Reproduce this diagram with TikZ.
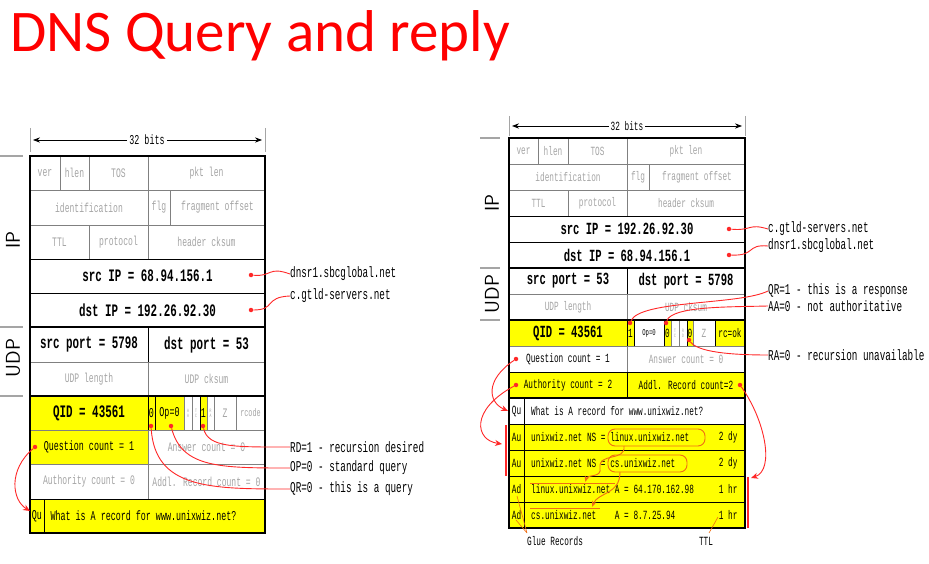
\documentclass[tikz,border=0pt]{standalone}
\usepackage{fontspec}
\setmainfont{Carlito}
\newfontfamily\mono[FakeStretch=0.62]{Liberation Mono}
\usetikzlibrary{arrows.meta}
\definecolor{gtext}{RGB}{165,165,165}
\definecolor{ylw}{RGB}{255,255,0}
\definecolor{rd}{RGB}{255,40,40}
\definecolor{org}{RGB}{240,110,20}
\tikzset{
 bt/.style={font=\mono\bfseries\fontsize{17.5}{17.5}\selectfont},
 bs/.style={font=\mono\bfseries\fontsize{17}{17}\selectfont},
 gt/.style={font=\mono\fontsize{13}{13}\selectfont,text=gtext},
 gs/.style={font=\mono\fontsize{12.5}{12.5}\selectfont,text=gtext},
 stl/.style={font=\mono\fontsize{13.5}{13.5}\selectfont},
 st/.style={font=\mono\fontsize{12.5}{12.5}\selectfont},
 tt/.style={font=\mono\fontsize{5}{5}\selectfont,text=gtext,align=center,inner sep=0pt},
 ann/.style={font=\mono\fontsize{15}{15}\selectfont,anchor=west,inner sep=0pt},
 sann/.style={font=\mono\fontsize{12.5}{12.5}\selectfont,inner sep=0pt},
 lay/.style={font=\sffamily\fontsize{20}{20}\selectfont,rotate=90},
 rl/.style={rd,line width=0.9pt},
 dot/.style={circle,fill=rd,inner sep=0pt,minimum size=4.5pt},
 arr/.style={rl,-{Stealth[length=7pt,width=6pt]}},
 ol/.style={org,line width=0.9pt},
}
% cell: x1 y1 x2 y2 fill draw style text
\newcommand\cel[8]{\filldraw[fill=#5,draw=#6,line width=0.9pt] (#1,#2) rectangle (#3,#4);
 \node[#7] at ({(#1+#3)/2},{(#2+#4)/2}) {#8};}
\begin{document}
\begin{tikzpicture}[x=1pt,y=-1pt]
\useasboundingbox (0,0) rectangle (929,564);
\node[anchor=west,text=red,font=\fontsize{59}{59}\selectfont,inner sep=0pt] (title) at (10,36) {DNS Query and reply};

% ================= LEFT =================
\draw[gtext,line width=1pt] (30,128)--(30,152) (265,128)--(265,152);
\node[stl,fill=white,inner sep=2pt] (lbits) at (147,140) {32 bits};
\draw[-{Stealth[length=7pt]},line width=0.8pt] (lbits.west)--(33,140);
\draw[-{Stealth[length=7pt]},line width=0.8pt] (lbits.east)--(262,140);
\draw[gtext,line width=1.5pt] (0,156)--(23,156) (0,327)--(23,327) (0,396)--(23,396);
\node[lay] (lip) at (13,240) {IP};
\node[lay] (ludp) at (13,358) {UDP};
\cel{30}{156}{60}{190}{white}{gray}{gt}{ver}
\cel{60}{156}{89}{190}{white}{gray}{gt}{hlen}
\cel{89}{156}{148}{190}{white}{gray}{gt}{TOS}
\cel{148}{156}{265}{190}{white}{gray}{gt}{pkt len}
\cel{30}{190}{148}{225}{white}{gray}{gt}{identification}
\cel{148}{190}{170}{225}{white}{gray}{gt}{flg}
\cel{170}{190}{265}{225}{white}{gray}{gt}{fragment offset}
\cel{30}{225}{89}{259}{white}{gray}{gt}{TTL}
\cel{89}{225}{148}{259}{white}{gray}{gt}{protocol}
\cel{148}{225}{265}{259}{white}{gray}{gt}{header cksum}
\cel{30}{259}{265}{293}{white}{black}{bt}{src IP = 68.94.156.1}
\cel{30}{293}{265}{327}{white}{black}{bt}{dst IP = 192.26.92.30}
\cel{30}{327}{148}{362}{white}{black}{bt}{src port = 5798}
\cel{148}{327}{265}{362}{white}{black}{bt}{dst port = 53}
\cel{30}{362}{148}{396}{white}{gray}{gt}{UDP length}
\cel{148}{362}{265}{396}{white}{gray}{gt}{UDP cksum}
\cel{30}{396}{148}{430}{ylw}{black}{bt}{QID = 43561}
\cel{148}{396}{155}{430}{ylw}{black}{stl,inner sep=0pt}{0}
\cel{155}{396}{184}{430}{ylw}{black}{stl,inner sep=0pt}{Op=0}
\cel{184}{396}{192}{430}{white}{gray}{tt}{A\\A}
\cel{192}{396}{200}{430}{white}{gray}{tt}{T\\C}
\cel{200}{396}{207}{430}{ylw}{black}{stl,inner sep=0pt}{1}
\cel{207}{396}{214}{430}{white}{gray}{tt}{R\\A}
\cel{214}{396}{236}{430}{white}{gray}{gt}{Z}
\cel{236}{396}{265}{430}{white}{gray}{gs,font=\mono\fontsize{11}{11}\selectfont}{rcode}
\cel{30}{430}{148}{464}{ylw}{gray}{stl}{Question count = 1}
\cel{148}{430}{265}{464}{white}{gray}{gt}{Answer count = 0}
\cel{30}{464}{148}{499}{white}{gray}{gt}{Authority count = 0}
\cel{148}{464}{265}{499}{white}{gray}{gt}{Addl. Record count = 0}
\cel{30}{499}{44}{533}{ylw}{black}{stl,inner sep=0pt}{Qu}
\filldraw[fill=ylw,draw=black,line width=0.9pt] (44,499) rectangle (265,533);
\node[stl,anchor=west] (lq) at (47,516) {What is A record for www.unixwiz.net?};
\draw[line width=2pt] (30,156) rectangle (265,533);
\draw[line width=1.6pt] (30,327)--(265,327) (30,396)--(265,396);
% left annotations
\node[dot] (ld1) at (251,275) {};
\node[dot] (ld2) at (251,310) {};
\node[ann] (lsrc) at (290,274) {dnsr1.sbcglobal.net};
\node[ann] (ldst) at (290,296) {c.gtld-servers.net};
\draw[rl] (ld1) .. controls (272,277) and (268,266) .. (lsrc.west);
\draw[rl] (ld2) .. controls (276,310) and (264,297) .. (ldst.west);
\node[dot] (lqr) at (151,426) {};
\node[dot] (lop) at (171,426) {};
\node[dot] (lrd) at (203,426) {};
\node[ann] (lrdt) at (290,447) {RD=1 - recursion desired};
\node[ann] (lopt) at (290,468) {OP=0 - standard query};
\node[ann] (lqrt) at (290,489) {QR=0 - this is a query};
\draw[rl] (lrd) .. controls (208,448) and (235,447) .. (lrdt.west);
\draw[rl] (lop) .. controls (182,468) and (220,468) .. (lopt.west);
\draw[rl] (lqr) .. controls (155,489) and (210,489) .. (lqrt.west);
\node[dot] (lqc) at (35,447) {};
\coordinate (lqu) at (30,511);
\draw[arr] (lqc) .. controls (8,470) and (12,500) .. (lqu);

% ================= RIGHT =================
\draw[gtext,line width=1pt] (509,116)--(509,136) (745,116)--(745,136);
\node[st,fill=white,inner sep=2pt] (rbits) at (627,126) {32 bits};
\draw[-{Stealth[length=7pt]},line width=0.8pt] (rbits.west)--(512,126);
\draw[-{Stealth[length=7pt]},line width=0.8pt] (rbits.east)--(742,126);
\draw[gtext,line width=1.5pt] (480,138)--(500,138) (480,268)--(500,268) (480,320)--(500,320);
\node[lay] (rip) at (492,203) {IP};
\node[lay] (rudp) at (492,294) {UDP};
\cel{509}{138}{538}{164}{white}{gray}{gs}{ver}
\cel{538}{138}{568}{164}{white}{gray}{gs}{hlen}
\cel{568}{138}{627}{164}{white}{gray}{gs}{TOS}
\cel{627}{138}{745}{164}{white}{gray}{gs}{pkt len}
\cel{509}{164}{627}{190}{white}{gray}{gs}{identification}
\cel{627}{164}{649}{190}{white}{gray}{gs}{flg}
\cel{649}{164}{745}{190}{white}{gray}{gs}{fragment offset}
\cel{509}{190}{568}{216}{white}{gray}{gs}{TTL}
\cel{568}{190}{627}{216}{white}{gray}{gs}{protocol}
\cel{627}{190}{745}{216}{white}{gray}{gs}{header cksum}
\cel{509}{216}{745}{242}{white}{black}{bs}{src IP = 192.26.92.30}
\cel{509}{242}{745}{268}{white}{black}{bs}{dst IP = 68.94.156.1}
\cel{509}{268}{627}{294}{white}{black}{bs}{src port = 53}
\cel{627}{268}{745}{294}{white}{black}{bs}{dst port = 5798}
\cel{509}{294}{627}{320}{white}{gray}{gs}{UDP length}
\cel{627}{294}{745}{320}{white}{gray}{gs}{UDP cksum}
\cel{509}{320}{627}{346}{ylw}{black}{bs}{QID = 43561}
\cel{627}{320}{634}{346}{ylw}{black}{st,inner sep=0pt}{1}
\cel{634}{320}{664}{346}{white}{black}{st,inner sep=0pt,font=\mono\fontsize{9}{9}\selectfont}{Op=0}
\cel{664}{320}{671}{346}{ylw}{black}{st,inner sep=0pt}{0}
\cel{671}{320}{679}{346}{white}{gray}{tt}{T\\C}
\cel{679}{320}{687}{346}{white}{gray}{tt}{R\\D}
\cel{687}{320}{693}{346}{ylw}{black}{st,inner sep=0pt}{0}
\cel{693}{320}{715}{346}{white}{gray}{gs}{Z}
\cel{715}{320}{745}{346}{ylw}{black}{st,inner sep=0pt}{rc=ok}
\cel{509}{346}{627}{372}{white}{gray}{st}{Question count = 1}
\cel{627}{346}{745}{372}{white}{gray}{gs}{Answer count = 0}
\cel{509}{372}{627}{398}{ylw}{black}{st}{Authority count = 2}
\cel{627}{372}{745}{398}{ylw}{black}{st}{Addl. Record count=2}
\cel{509}{398}{524}{424}{white}{black}{st,inner sep=0pt}{Qu}
\cel{509}{424}{524}{450}{ylw}{black}{st,inner sep=0pt}{Au}
\cel{509}{450}{524}{476}{ylw}{black}{st,inner sep=0pt}{Au}
\cel{509}{476}{524}{502}{ylw}{black}{st,inner sep=0pt}{Ad}
\cel{509}{502}{524}{528}{ylw}{black}{st,inner sep=0pt}{Ad}
\filldraw[fill=white,draw=black,line width=0.9pt] (524,398) rectangle (745,424);
\filldraw[fill=ylw,draw=black,line width=0.9pt] (524,424) rectangle (745,450) (524,450) rectangle (745,476) (524,476) rectangle (745,502) (524,502) rectangle (745,528);
\node[st,anchor=west,inner sep=0pt] (rq) at (531,411) {What is A record for www.unixwiz.net?};
\node[st,anchor=west,inner sep=0pt] (ra1) at (531,437) {unixwiz.net NS = linux.unixwiz.net};
\node[st,anchor=west,inner sep=0pt] (ra2) at (531,463) {unixwiz.net NS = cs.unixwiz.net};
\node[st,anchor=west,inner sep=0pt] (rd1) at (531,489) {linux.unixwiz.net A = 64.170.162.98};
\node[st,anchor=west,inner sep=0pt] (rd2) at (531,515) {cs.unixwiz.net\ \ \ \ A = 8.7.25.94};
\node[st,anchor=east] (t1) at (741,437) {2 dy};
\node[st,anchor=east] (t2) at (741,463) {2 dy};
\node[st,anchor=east] (t3) at (741,489) {1 hr};
\node[st,anchor=east] (t4) at (741,515) {1 hr};
\draw[line width=2pt] (509,138) rectangle (745,528);
\draw[line width=1.6pt] (509,268)--(745,268) (509,320)--(745,320) (509,398)--(745,398);
% orange boxes
\draw[ol,rounded corners=7pt] (608,429) rectangle (705,446);
\draw[ol,rounded corners=7pt] (608,455) rectangle (687,472);
\draw[ol] (530,483)--(615,483) (530,508)--(600,508);
\draw[ol,-{Stealth[length=6pt]}] (624,446) .. controls (626,462) and (598,452) .. (600,468) .. controls (602,478) and (588,474) .. (585,482);
\draw[ol,-{Stealth[length=6pt]}] (620,472) .. controls (620,495) and (598,492) .. (592,507);
% right annotations
\node[dot] (rd1d) at (729,229) {};
\node[dot] (rd2d) at (729,255) {};
\node[ann] (rsrc) at (768,229) {c.gtld-servers.net};
\node[ann] (rdst) at (768,246) {dnsr1.sbcglobal.net};
\draw[rl] (rd1d) .. controls (752,231) and (748,223) .. (rsrc.west);
\draw[rl] (rd2d) .. controls (756,256) and (746,244) .. (rdst.west);
\node[dot] (rqr) at (630,323) {};
\node[dot] (raa) at (666,323) {};
\node[dot] (rra) at (689,340) {};
\node[ann] (rqrt) at (768,291) {QR=1 - this is a response};
\node[ann] (raat) at (768,306) {AA=0 - not authoritative};
\node[ann] (rrat) at (768,355) {RA=0 - recursion unavailable};
\draw[rl] (rqr) .. controls (640,300) and (740,305) .. (rqrt.west);
\draw[rl] (raa) .. controls (672,306) and (730,307) .. (raat.west);
\draw[rl] (rra) .. controls (698,352) and (730,355) .. (rrat.west);
\node[dot] (rqc) at (516,359) {};
\node[dot] (rac) at (516,385) {};
\node[dot] (rad) at (740,385) {};
\coordinate (rqu) at (508,411);
\coordinate (rau) at (502,444);
\coordinate (radd) at (751,478);
\draw[arr] (rqc) .. controls (485,380) and (488,402) .. (rqu);
\draw[arr] (rac) .. controls (470,410) and (475,440) .. (rau);
\draw[arr] (rad) .. controls (765,420) and (775,470) .. (radd);
\draw[rd,line width=2.2pt] (506,425)--(506,476) (748,477)--(748,528);
\node[sann] (glue) at (555,541) {Glue Records};
\node[sann] (ttl) at (706,541) {TTL};
\draw[org,line width=0.6pt] (527,533)--(517,496) (527,533)--(516,520);
\draw[org,line width=0.6pt] (709,533)--(718,517);
\end{tikzpicture}
\end{document}
